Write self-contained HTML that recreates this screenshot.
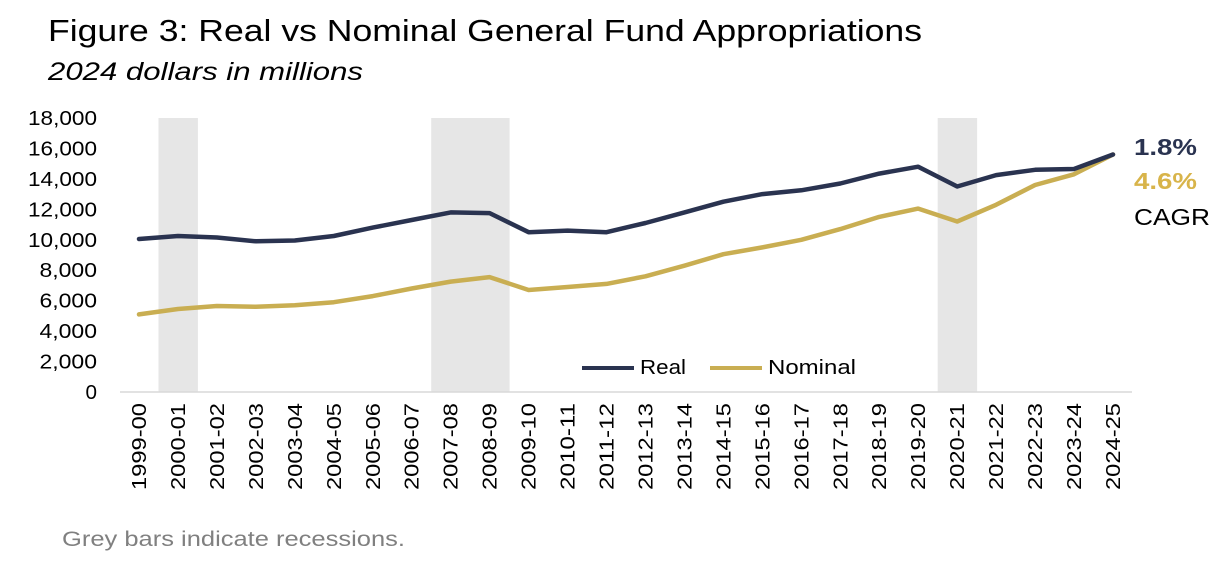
<!DOCTYPE html>
<html><head><meta charset="utf-8"><style>
body{margin:0;background:#fff;width:1228px;height:556px;overflow:hidden;font-family:"Liberation Sans",sans-serif;}
</style></head><body>
<svg width="1228" height="556">
<text x="48" y="41" font-size="31" textLength="874" lengthAdjust="spacingAndGlyphs" fill="#000">Figure 3: Real vs Nominal General Fund Appropriations</text>
<text x="48" y="80" font-size="25" textLength="315" lengthAdjust="spacingAndGlyphs" font-style="italic" fill="#000">2024 dollars in millions</text>
<g id="rec"></g><g id="axes"></g><g id="lines"></g>
<g>
<line x1="582" y1="368" x2="634" y2="368" stroke="#2a3350" stroke-width="4"/>
<text x="640" y="374" font-size="20" textLength="46" lengthAdjust="spacingAndGlyphs">Real</text>
<line x1="710" y1="368" x2="762" y2="368" stroke="#c9ae52" stroke-width="4"/>
<text x="768" y="374" font-size="20" textLength="88" lengthAdjust="spacingAndGlyphs">Nominal</text>
</g>
<text x="1134" y="155" font-size="23" textLength="63" lengthAdjust="spacingAndGlyphs" font-weight="bold" fill="#2a3350">1.8%</text>
<text x="1134" y="189" font-size="23" textLength="63" lengthAdjust="spacingAndGlyphs" font-weight="bold" fill="#d8b44a">4.6%</text>
<text x="1134" y="225" font-size="23" textLength="76" lengthAdjust="spacingAndGlyphs" fill="#000">CAGR</text>
<text x="62" y="546" font-size="21" textLength="343" lengthAdjust="spacingAndGlyphs" fill="#808080">Grey bars indicate recessions.</text>
</svg>
<script>
const categories=["1999-00","2000-01","2001-02","2002-03","2003-04","2004-05","2005-06","2006-07","2007-08","2008-09","2009-10","2010-11","2011-12","2012-13","2013-14","2014-15","2015-16","2016-17","2017-18","2018-19","2019-20","2020-21","2021-22","2022-23","2023-24","2024-25"];
const realValues=[10050,10250,10150,9900,9950,10250,10800,11300,11800,11750,10500,10600,10500,11100,11800,12500,13000,13250,13700,14350,14800,13500,14250,14600,14650,15600];
const nominalValues=[5100,5450,5650,5600,5700,5900,6300,6800,7250,7550,6700,6900,7100,7600,8300,9050,9500,10000,10700,11500,12050,11200,12300,13600,14300,15600];
const yTicks=[0,2000,4000,6000,8000,10000,12000,14000,16000,18000];
const recessions=["2000-01","2007-08","2008-09","2020-21"];
const NS="http://www.w3.org/2000/svg";
const x0=139,step=(1113-139)/25,yBase=392,yTop=118,yMax=18000;
const xs=i=>x0+i*step;
const ys=v=>yBase-(v/yMax)*(yBase-yTop);
function mk(tag,attrs,parent){const e=document.createElementNS(NS,tag);for(const k in attrs)e.setAttribute(k,attrs[k]);document.getElementById(parent).appendChild(e);return e;}
recessions.forEach(c=>{const i=categories.indexOf(c);
const r=mk("rect",{x:xs(i)-step/2,y:yTop,width:step+0.5,height:yBase-yTop,fill:"#e6e6e6"},"rec");

});
const ax=mk("line",{x1:120,x2:1132,y1:yBase,y2:yBase,stroke:"#d9d9d9","stroke-width":1.5},"axes");


yTicks.forEach(t=>{const s=t.toLocaleString("en-US");const e=mk("text",{x:97,y:ys(t)+7,"font-size":20,"text-anchor":"end",textLength:s.length*11.5,lengthAdjust:"spacingAndGlyphs"},"axes");e.textContent=s;

});
categories.forEach((c,i)=>{const e=mk("text",{transform:`translate(${xs(i)+7},403) rotate(-90)`,"font-size":20,"text-anchor":"end",textLength:87,lengthAdjust:"spacingAndGlyphs"},"axes");e.textContent=c;

});
function line(vals,color,name){const d=vals.map((v,i)=>(i?"L":"M")+xs(i).toFixed(1)+","+ys(v).toFixed(1)).join("");
const p=mk("path",{d:d,fill:"none",stroke:color,"stroke-width":4.5,"stroke-linejoin":"round","stroke-linecap":"round"},"lines");

}
line(nominalValues,"#c9ae52","nominal-line");
line(realValues,"#2a3350","real-line");
</script>
</body></html>
